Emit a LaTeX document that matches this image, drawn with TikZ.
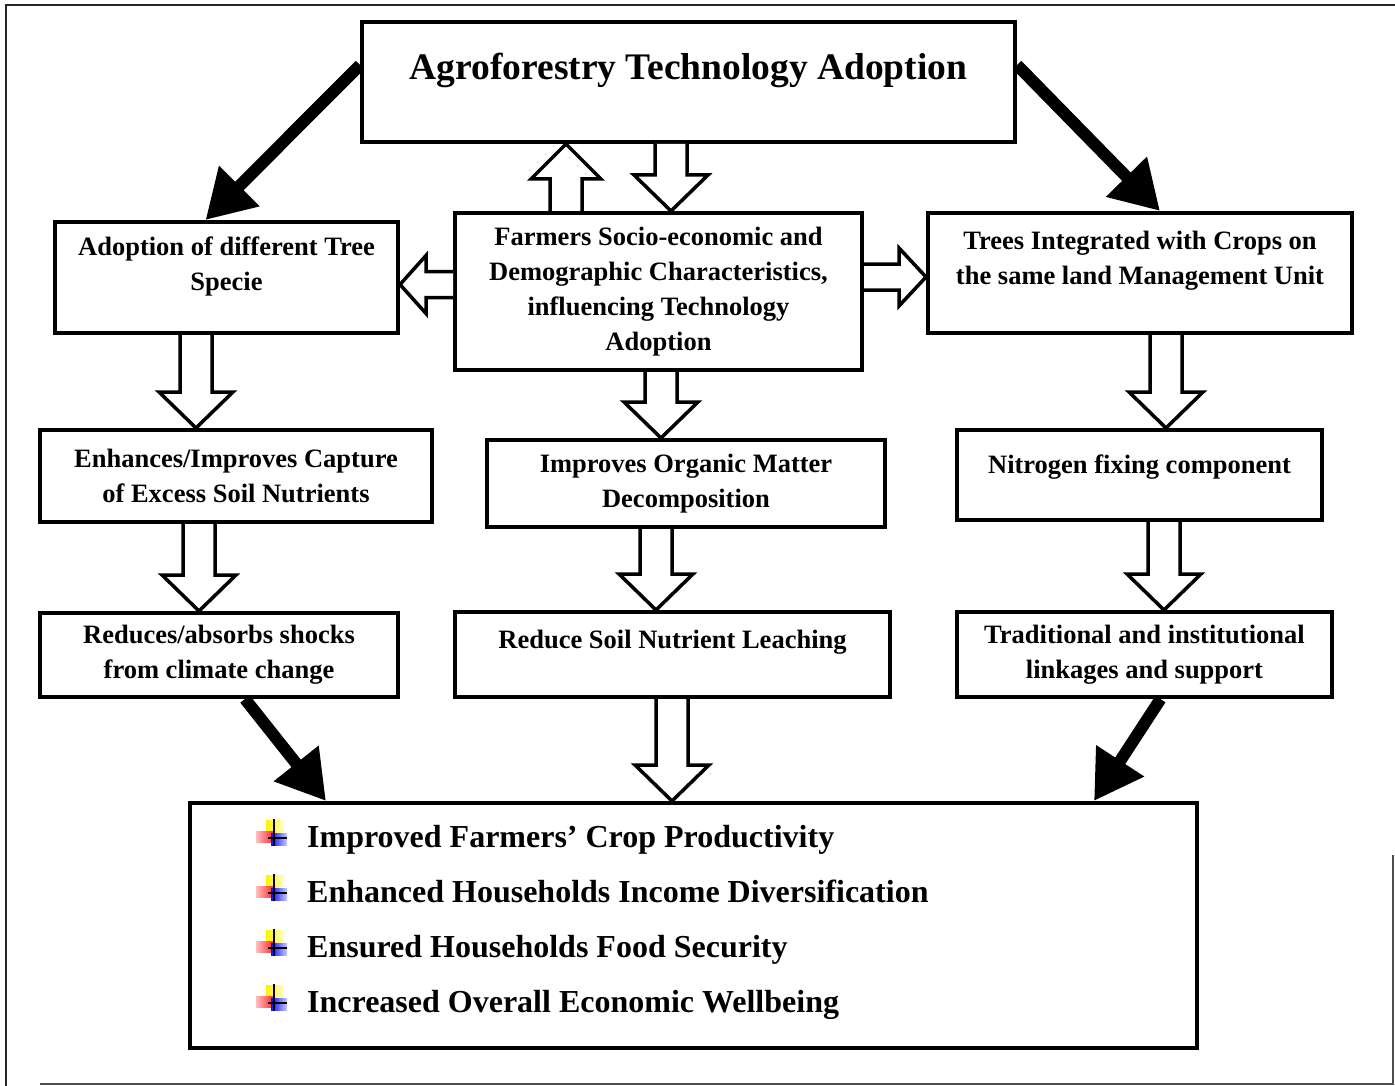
\documentclass[tikz,border=0pt]{standalone}
\usepackage{fontspec}
\setmainfont{Liberation Serif}
\usetikzlibrary{arrows.meta, positioning, calc}

% hollow block arrows (x or y given in picture units, ends from node anchors)
\newcommand{\downblock}[3]{%
  \draw [hollow] let \p1=(#2), \p2=(#3), \p3=(#1,0) in
    (\x3-16pt,\y1) -- (\x3-16pt,\y2+36pt) -- (\x3-37pt,\y2+36pt) -- (\x3,\y2)
    -- (\x3+37pt,\y2+36pt) -- (\x3+16pt,\y2+36pt) -- (\x3+16pt,\y1);}
\newcommand{\upblock}[3]{%
  \draw [hollow] let \p1=(#2), \p2=(#3), \p3=(#1,0) in
    (\x3-16pt,\y1) -- (\x3-16pt,\y2-35pt) -- (\x3-35pt,\y2-35pt) -- (\x3,\y2)
    -- (\x3+35pt,\y2-35pt) -- (\x3+16pt,\y2-35pt) -- (\x3+16pt,\y1);}
\newcommand{\leftblock}[3]{%
  \draw [hollow] let \p1=(#2), \p2=(#3), \p3=(0,#1) in
    (\x1,\y3+13pt) -- (\x2+26pt,\y3+13pt) -- (\x2+26pt,\y3+29pt) -- (\x2,\y3)
    -- (\x2+26pt,\y3-29pt) -- (\x2+26pt,\y3-13pt) -- (\x1,\y3-13pt);}
\newcommand{\rightblock}[3]{%
  \draw [hollow] let \p1=(#2), \p2=(#3), \p3=(0,#1) in
    (\x1,\y3+13pt) -- (\x2-27pt,\y3+13pt) -- (\x2-27pt,\y3+29pt) -- (\x2,\y3)
    -- (\x2-27pt,\y3-29pt) -- (\x2-27pt,\y3-13pt) -- (\x1,\y3-13pt);}

\begin{document}
\begin{tikzpicture}[
    x=1pt, y=-1pt,
    box/.style={draw, line width=4pt, align=center, inner sep=0pt,
        font=\fontsize{26.5}{35}\selectfont\bfseries},
    hollow/.style={draw=black, line width=3.5pt, fill=white, line join=miter},
    bigarrow/.style={line width=12pt, -{Triangle[length=48pt, width=54pt]}},
    frame/.style={draw=black!85, line width=1.5pt},
    item/.style={anchor=base west, inner sep=0pt, font=\fontsize{32}{36}\selectfont\bfseries},
    bulleticon/.pic={
        \shade [left color=yellow!90!orange, right color=yellow!20] (-6,-13) rectangle (12,0);
        \shade [left color=red!25, right color=red!85] (-16,-2) rectangle (2,9);
        \shade [left color=blue!95, right color=blue!20] (-1,0) rectangle (15,12);
        \draw [line width=1.8pt] (2,-14) -- (2,13);
        \draw [line width=1.8pt] (-4,5) -- (15,5);
    }
]
    \useasboundingbox (0,0) rectangle (1395,1086);

    % Page frame
    \draw [frame] (6,1086) -- (6,5) -- (1395,5);
    \draw [frame, draw=black!70] (40,1084) -- (1393,1084) -- (1393,855);

    % Boxes
    \node [box, minimum width=653pt, minimum height=120pt, text depth=31pt,
        font=\fontsize{37.5}{40}\selectfont\bfseries] (top) at (688.5,82)
        {Agroforestry Technology Adoption};

    \node [box, minimum width=343pt, minimum height=111pt, text depth=28pt] (species) at (226.5,277.5)
        {Adoption of different Tree\\Specie};
    \node [box, minimum width=407pt, minimum height=157pt] (farmers) at (658.5,291.5)
        {Farmers Socio-economic and\\Demographic Characteristics,\\influencing Technology\\Adoption};
    \node [box, minimum width=424pt, minimum height=120pt, text depth=30pt] (integrated) at (1140,273)
        {Trees Integrated with Crops on\\the same land Management Unit};

    \node [box, minimum width=392pt, minimum height=92pt] (capture) at (236,476)
        {Enhances/Improves Capture\\of Excess Soil Nutrients};
    \node [box, minimum width=398pt, minimum height=87pt] (organic) at (686,483.5)
        {Improves Organic Matter\\Decomposition};
    \node [box, minimum width=365pt, minimum height=90pt, text depth=21pt] (nitrogen) at (1139.5,475)
        {Nitrogen fixing component};

    \node [box, minimum width=358pt, minimum height=84pt] (shocks) at (219,655)
        {Reduces/absorbs shocks\\from climate change};
    \node [box, minimum width=435pt, minimum height=85pt, text depth=30pt] (leaching) at (672.5,654.5)
        {Reduce Soil Nutrient Leaching};
    \node [box, minimum width=375pt, minimum height=85pt] (linkages) at (1144.5,654.5)
        {Traditional and institutional\\linkages and support};

    \node [box, minimum width=1007pt, minimum height=245pt] (outcome) at (693.5,925.5) {};

    % Outcome list
    \foreach \name/\y/\txt in {
        o1/836/{Improved Farmers’ Crop Productivity},
        o2/891/{Enhanced Households Income Diversification},
        o3/946/{Ensured Households Food Security},
        o4/1001/{Increased Overall Economic Wellbeing}
    } {
        \pic at (272,\y-3) {bulleticon};
        \node [item] (\name) at (307,\y+11) {\txt};
    }

    % Thick arrows
    \draw [bigarrow] ([yshift=17pt]top.west) -- ([xshift=-21pt]species.north);
    \draw [bigarrow] ([yshift=17pt]top.east) -- ([xshift=20pt]integrated.north);
    \draw [bigarrow] ([xshift=26pt]shocks.south) -- ([xshift=138pt]outcome.north west);
    \draw [bigarrow] ([xshift=16pt]linkages.south) -- ([xshift=-105pt]outcome.north east);

    % Hollow arrows
    \upblock{566}{farmers.north}{top.south}
    \downblock{671}{top.south}{farmers.north}
    \leftblock{284.5}{farmers.west}{species.east}
    \rightblock{277}{farmers.east}{integrated.west}

    \downblock{196}{species.south}{capture.north}
    \downblock{661}{farmers.south}{organic.north}
    \downblock{1166}{integrated.south}{nitrogen.north}

    \downblock{199}{capture.south}{shocks.north}
    \downblock{656}{organic.south}{leaching.north}
    \downblock{1164}{nitrogen.south}{linkages.north}

    \downblock{672}{leaching.south}{outcome.north}
\end{tikzpicture}
\end{document}
